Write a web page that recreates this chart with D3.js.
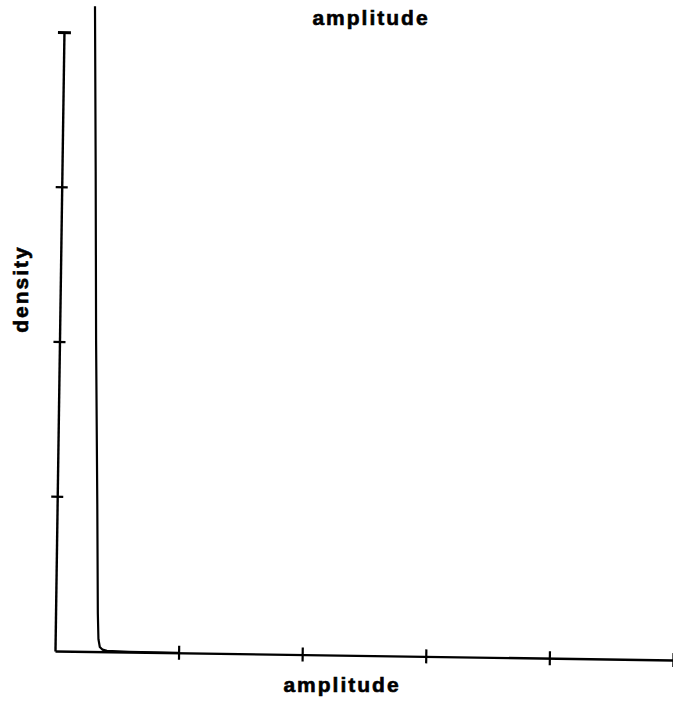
<!DOCTYPE html>
<html>
<head>
<meta charset="utf-8">
<script src="https://cdn.jsdelivr.net/npm/d3@7"></script>
<style>
  body { margin: 0; background: #fff; }
  text { font-family: "Liberation Sans", Arial, sans-serif; font-weight: bold; fill: #000; stroke: #000; stroke-width: 0.6px; }
</style>
</head>
<body>
<svg width="673" height="702"></svg>
<script>
// density curve
var amplitude = [0.248, 0.273, 0.296, 0.325, 0.342, 0.35, 0.362, 0.385, 0.42, 0.6, 1.0];
var density   = [4.17, 3.1, 2.01, 0.95, 0.25, 0.08, 0.03, 0.013, 0.006, 0.002, 0];

var xTicks = [1, 2, 3, 4, 5];
var yTicks = [1, 2, 3, 4];

var svg = d3.select("svg"),
    width = +svg.attr("width"),
    height = +svg.attr("height");

var plotW = 618, plotH = 619;

var x = d3.scaleLinear().domain([0, 5]).range([0, plotW]);
var y = d3.scaleLinear().domain([0, 4]).range([0, -plotH]);

// the scanned page is tilted a little
var g = svg.append("g").attr("transform", "translate(55,651) rotate(0.83)");

var xAxis = g.append("g")
    .call(d3.axisBottom(x).tickValues(xTicks).tickSize(6).tickSizeOuter(0).tickFormat(""));
xAxis.selectAll(".tick line").attr("y1", -7).attr("y2", 7).attr("stroke-width", 2.2);
xAxis.select(".domain").attr("stroke-width", 2.4);

var yAxis = g.append("g")
    .call(d3.axisLeft(y).tickValues(yTicks).tickSize(6).tickSizeOuter(0).tickFormat(""));
yAxis.selectAll(".tick line").attr("x1", -6).attr("x2", 6).attr("stroke-width", 2.2);
yAxis.selectAll(".tick").filter(d => d === 4).select("line").attr("x1", -6).attr("x2", 7).attr("stroke-width", 3);
yAxis.select(".domain").attr("stroke-width", 2.4);

var pts = amplitude.map((a, i) => [a, density[i]]);

g.append("path")
    .datum(pts)
    .attr("fill", "none")
    .attr("stroke", "#000")
    .attr("stroke-width", 2.2)
    .attr("d", d3.line().x(d => x(d[0])).y(d => y(d[1])));

// labels
svg.append("text")
    .attr("x", 371).attr("y", 25)
    .attr("text-anchor", "middle")
    .style("font-size", "21px").style("letter-spacing", "2px")
    .text("amplitude");

svg.append("text")
    .attr("x", 342).attr("y", 692)
    .attr("text-anchor", "middle")
    .style("font-size", "21px").style("letter-spacing", "2px")
    .text("amplitude");

svg.append("text")
    .attr("transform", "translate(28,289) rotate(-90)")
    .attr("text-anchor", "middle")
    .style("font-size", "21px").style("letter-spacing", "2px")
    .text("density");
</script>
</body>
</html>
